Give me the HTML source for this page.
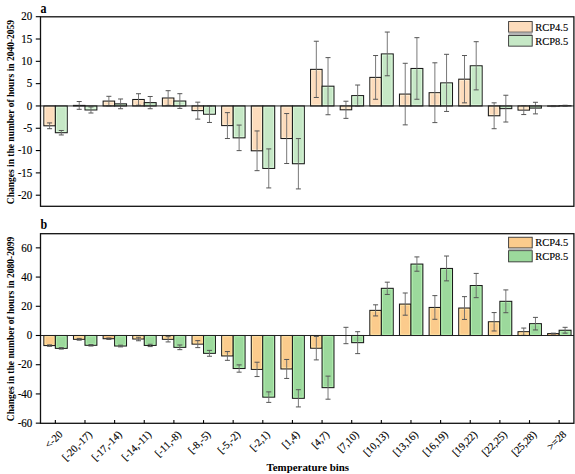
<!DOCTYPE html>
<html><head><meta charset="utf-8"><style>
html,body{margin:0;padding:0;background:#fff;}
svg{display:block;}
text{font-family:"Liberation Serif",serif;fill:#000;stroke:#000;stroke-width:0.15px;}
.tk{font-size:11px;}
.lg{font-size:10.5px;}
.xl{font-size:10.5px;}
.lt{font-size:12px;font-weight:bold;stroke:none;}
.yt{font-size:9.5px;font-weight:bold;stroke:none;}
.xt{font-size:10.9px;font-weight:bold;stroke:none;}
</style></head><body>
<svg width="575" height="474" viewBox="0 0 575 474">
<rect width="575" height="474" fill="#fff"/>
<rect x="43.85" y="105.95" width="11.5" height="19.86" fill="#FDDCBC" stroke="#1a1a1a" stroke-width="1.05"/>
<rect x="45.1" y="107.2" width="9" height="17.36" fill="none" stroke="#FFF0D6" stroke-width="0.8"/>
<rect x="55.35" y="105.95" width="11.9" height="26.77" fill="#C6E8C6" stroke="#1a1a1a" stroke-width="1.05"/>
<rect x="56.6" y="107.2" width="9.4" height="24.27" fill="none" stroke="#DDFADD" stroke-width="0.8"/>
<line x1="49.6" y1="122.91" x2="49.6" y2="128.71" stroke="#6a6a6a" stroke-width="0.9"/>
<line x1="47.1" y1="122.91" x2="52.1" y2="122.91" stroke="#555" stroke-width="1"/>
<line x1="47.1" y1="128.71" x2="52.1" y2="128.71" stroke="#555" stroke-width="1"/>
<line x1="61.3" y1="130.49" x2="61.3" y2="134.96" stroke="#6a6a6a" stroke-width="0.9"/>
<line x1="58.8" y1="130.49" x2="63.8" y2="130.49" stroke="#555" stroke-width="1"/>
<line x1="58.8" y1="134.96" x2="63.8" y2="134.96" stroke="#555" stroke-width="1"/>
<rect x="73.48" y="105.41" width="11.5" height="0.54" fill="#FDDCBC" stroke="#1a1a1a" stroke-width="1.05"/>
<rect x="84.98" y="105.95" width="11.9" height="4.02" fill="#C6E8C6" stroke="#1a1a1a" stroke-width="1.05"/>
<rect x="86.23" y="107.2" width="9.4" height="1.52" fill="none" stroke="#DDFADD" stroke-width="0.8"/>
<line x1="79.23" y1="101.53" x2="79.23" y2="109.3" stroke="#6a6a6a" stroke-width="0.9"/>
<line x1="76.73" y1="101.53" x2="81.73" y2="101.53" stroke="#555" stroke-width="1"/>
<line x1="76.73" y1="109.3" x2="81.73" y2="109.3" stroke="#555" stroke-width="1"/>
<line x1="90.94" y1="106.93" x2="90.94" y2="113" stroke="#6a6a6a" stroke-width="0.9"/>
<line x1="88.44" y1="106.93" x2="93.44" y2="106.93" stroke="#555" stroke-width="1"/>
<line x1="88.44" y1="113" x2="93.44" y2="113" stroke="#555" stroke-width="1"/>
<rect x="103.12" y="101.09" width="11.5" height="4.86" fill="#FDDCBC" stroke="#1a1a1a" stroke-width="1.05"/>
<rect x="104.37" y="102.34" width="9" height="2.36" fill="none" stroke="#FFF0D6" stroke-width="0.8"/>
<rect x="114.62" y="103.85" width="11.9" height="2.1" fill="#C6E8C6" stroke="#1a1a1a" stroke-width="1.05"/>
<line x1="108.87" y1="96.31" x2="108.87" y2="105.86" stroke="#6a6a6a" stroke-width="0.9"/>
<line x1="106.37" y1="96.31" x2="111.37" y2="96.31" stroke="#555" stroke-width="1"/>
<line x1="106.37" y1="105.86" x2="111.37" y2="105.86" stroke="#555" stroke-width="1"/>
<line x1="120.57" y1="98.99" x2="120.57" y2="108.72" stroke="#6a6a6a" stroke-width="0.9"/>
<line x1="118.07" y1="98.99" x2="123.07" y2="98.99" stroke="#555" stroke-width="1"/>
<line x1="118.07" y1="108.72" x2="123.07" y2="108.72" stroke="#555" stroke-width="1"/>
<rect x="132.75" y="99.48" width="11.5" height="6.47" fill="#FDDCBC" stroke="#1a1a1a" stroke-width="1.05"/>
<rect x="134" y="100.73" width="9" height="3.97" fill="none" stroke="#FFF0D6" stroke-width="0.8"/>
<rect x="144.25" y="102.6" width="11.9" height="3.35" fill="#C6E8C6" stroke="#1a1a1a" stroke-width="1.05"/>
<line x1="138.5" y1="93.72" x2="138.5" y2="105.24" stroke="#6a6a6a" stroke-width="0.9"/>
<line x1="136" y1="93.72" x2="141" y2="93.72" stroke="#555" stroke-width="1"/>
<line x1="136" y1="105.24" x2="141" y2="105.24" stroke="#555" stroke-width="1"/>
<line x1="150.2" y1="96.49" x2="150.2" y2="108.72" stroke="#6a6a6a" stroke-width="0.9"/>
<line x1="147.7" y1="96.49" x2="152.7" y2="96.49" stroke="#555" stroke-width="1"/>
<line x1="147.7" y1="108.72" x2="152.7" y2="108.72" stroke="#555" stroke-width="1"/>
<rect x="162.39" y="98.01" width="11.5" height="7.94" fill="#FDDCBC" stroke="#1a1a1a" stroke-width="1.05"/>
<rect x="163.64" y="99.26" width="9" height="5.44" fill="none" stroke="#FFF0D6" stroke-width="0.8"/>
<rect x="173.89" y="101.04" width="11.9" height="4.91" fill="#C6E8C6" stroke="#1a1a1a" stroke-width="1.05"/>
<rect x="175.14" y="102.29" width="9.4" height="2.41" fill="none" stroke="#DDFADD" stroke-width="0.8"/>
<line x1="168.14" y1="90.69" x2="168.14" y2="105.33" stroke="#6a6a6a" stroke-width="0.9"/>
<line x1="165.64" y1="90.69" x2="170.64" y2="90.69" stroke="#555" stroke-width="1"/>
<line x1="165.64" y1="105.33" x2="170.64" y2="105.33" stroke="#555" stroke-width="1"/>
<line x1="179.84" y1="93.68" x2="179.84" y2="108.4" stroke="#6a6a6a" stroke-width="0.9"/>
<line x1="177.34" y1="93.68" x2="182.34" y2="93.68" stroke="#555" stroke-width="1"/>
<line x1="177.34" y1="108.4" x2="182.34" y2="108.4" stroke="#555" stroke-width="1"/>
<rect x="192.03" y="105.95" width="11.5" height="4.69" fill="#FDDCBC" stroke="#1a1a1a" stroke-width="1.05"/>
<rect x="193.28" y="107.2" width="9" height="2.19" fill="none" stroke="#FFF0D6" stroke-width="0.8"/>
<rect x="203.53" y="105.95" width="11.9" height="8.26" fill="#C6E8C6" stroke="#1a1a1a" stroke-width="1.05"/>
<rect x="204.78" y="107.2" width="9.4" height="5.76" fill="none" stroke="#DDFADD" stroke-width="0.8"/>
<line x1="197.78" y1="102.16" x2="197.78" y2="119.11" stroke="#6a6a6a" stroke-width="0.9"/>
<line x1="195.28" y1="102.16" x2="200.28" y2="102.16" stroke="#555" stroke-width="1"/>
<line x1="195.28" y1="119.11" x2="200.28" y2="119.11" stroke="#555" stroke-width="1"/>
<line x1="209.47" y1="105.95" x2="209.47" y2="122.46" stroke="#6a6a6a" stroke-width="0.9"/>
<line x1="206.97" y1="105.95" x2="211.97" y2="105.95" stroke="#555" stroke-width="1"/>
<line x1="206.97" y1="122.46" x2="211.97" y2="122.46" stroke="#555" stroke-width="1"/>
<rect x="221.66" y="105.95" width="11.5" height="19.64" fill="#FDDCBC" stroke="#1a1a1a" stroke-width="1.05"/>
<rect x="222.91" y="107.2" width="9" height="17.14" fill="none" stroke="#FFF0D6" stroke-width="0.8"/>
<rect x="233.16" y="105.95" width="11.9" height="31.91" fill="#C6E8C6" stroke="#1a1a1a" stroke-width="1.05"/>
<rect x="234.41" y="107.2" width="9.4" height="29.41" fill="none" stroke="#DDFADD" stroke-width="0.8"/>
<line x1="227.41" y1="112.64" x2="227.41" y2="138.53" stroke="#6a6a6a" stroke-width="0.9"/>
<line x1="224.91" y1="112.64" x2="229.91" y2="112.64" stroke="#555" stroke-width="1"/>
<line x1="224.91" y1="138.53" x2="229.91" y2="138.53" stroke="#555" stroke-width="1"/>
<line x1="239.11" y1="125.09" x2="239.11" y2="150.62" stroke="#6a6a6a" stroke-width="0.9"/>
<line x1="236.61" y1="125.09" x2="241.61" y2="125.09" stroke="#555" stroke-width="1"/>
<line x1="236.61" y1="150.62" x2="241.61" y2="150.62" stroke="#555" stroke-width="1"/>
<rect x="251.3" y="105.95" width="11.5" height="44.85" fill="#FDDCBC" stroke="#1a1a1a" stroke-width="1.05"/>
<rect x="252.55" y="107.2" width="9" height="42.35" fill="none" stroke="#FFF0D6" stroke-width="0.8"/>
<rect x="262.8" y="105.95" width="11.9" height="62.48" fill="#C6E8C6" stroke="#1a1a1a" stroke-width="1.05"/>
<rect x="264.05" y="107.2" width="9.4" height="59.98" fill="none" stroke="#DDFADD" stroke-width="0.8"/>
<line x1="257.05" y1="130.94" x2="257.05" y2="170.66" stroke="#6a6a6a" stroke-width="0.9"/>
<line x1="254.55" y1="130.94" x2="259.55" y2="130.94" stroke="#555" stroke-width="1"/>
<line x1="254.55" y1="170.66" x2="259.55" y2="170.66" stroke="#555" stroke-width="1"/>
<line x1="268.75" y1="148.92" x2="268.75" y2="187.93" stroke="#6a6a6a" stroke-width="0.9"/>
<line x1="266.25" y1="148.92" x2="271.25" y2="148.92" stroke="#555" stroke-width="1"/>
<line x1="266.25" y1="187.93" x2="271.25" y2="187.93" stroke="#555" stroke-width="1"/>
<rect x="280.93" y="105.95" width="11.5" height="32.58" fill="#FDDCBC" stroke="#1a1a1a" stroke-width="1.05"/>
<rect x="282.18" y="107.2" width="9" height="30.08" fill="none" stroke="#FFF0D6" stroke-width="0.8"/>
<rect x="292.43" y="105.95" width="11.9" height="57.79" fill="#C6E8C6" stroke="#1a1a1a" stroke-width="1.05"/>
<rect x="293.68" y="107.2" width="9.4" height="55.29" fill="none" stroke="#DDFADD" stroke-width="0.8"/>
<line x1="286.68" y1="113.54" x2="286.68" y2="163.52" stroke="#6a6a6a" stroke-width="0.9"/>
<line x1="284.18" y1="113.54" x2="289.18" y2="113.54" stroke="#555" stroke-width="1"/>
<line x1="284.18" y1="163.52" x2="289.18" y2="163.52" stroke="#555" stroke-width="1"/>
<line x1="298.38" y1="138.57" x2="298.38" y2="188.91" stroke="#6a6a6a" stroke-width="0.9"/>
<line x1="295.88" y1="138.57" x2="300.88" y2="138.57" stroke="#555" stroke-width="1"/>
<line x1="295.88" y1="188.91" x2="300.88" y2="188.91" stroke="#555" stroke-width="1"/>
<rect x="310.57" y="69.36" width="11.5" height="36.59" fill="#FDDCBC" stroke="#1a1a1a" stroke-width="1.05"/>
<rect x="311.82" y="70.61" width="9" height="34.09" fill="none" stroke="#FFF0D6" stroke-width="0.8"/>
<rect x="322.07" y="86.18" width="11.9" height="19.77" fill="#C6E8C6" stroke="#1a1a1a" stroke-width="1.05"/>
<rect x="323.32" y="87.43" width="9.4" height="17.27" fill="none" stroke="#DDFADD" stroke-width="0.8"/>
<line x1="316.32" y1="41.24" x2="316.32" y2="97.47" stroke="#6a6a6a" stroke-width="0.9"/>
<line x1="313.82" y1="41.24" x2="318.82" y2="41.24" stroke="#555" stroke-width="1"/>
<line x1="313.82" y1="97.47" x2="318.82" y2="97.47" stroke="#555" stroke-width="1"/>
<line x1="328.02" y1="57.62" x2="328.02" y2="114.74" stroke="#6a6a6a" stroke-width="0.9"/>
<line x1="325.52" y1="57.62" x2="330.52" y2="57.62" stroke="#555" stroke-width="1"/>
<line x1="325.52" y1="114.74" x2="330.52" y2="114.74" stroke="#555" stroke-width="1"/>
<rect x="340.2" y="105.95" width="11.5" height="3.84" fill="#FDDCBC" stroke="#1a1a1a" stroke-width="1.05"/>
<rect x="341.45" y="107.2" width="9" height="1.34" fill="none" stroke="#FFF0D6" stroke-width="0.8"/>
<rect x="351.7" y="95.6" width="11.9" height="10.35" fill="#C6E8C6" stroke="#1a1a1a" stroke-width="1.05"/>
<rect x="352.95" y="96.85" width="9.4" height="7.85" fill="none" stroke="#DDFADD" stroke-width="0.8"/>
<line x1="345.95" y1="101.22" x2="345.95" y2="118.36" stroke="#6a6a6a" stroke-width="0.9"/>
<line x1="343.45" y1="101.22" x2="348.45" y2="101.22" stroke="#555" stroke-width="1"/>
<line x1="343.45" y1="118.36" x2="348.45" y2="118.36" stroke="#555" stroke-width="1"/>
<line x1="357.65" y1="85.02" x2="357.65" y2="106.17" stroke="#6a6a6a" stroke-width="0.9"/>
<line x1="355.15" y1="85.02" x2="360.15" y2="85.02" stroke="#555" stroke-width="1"/>
<line x1="355.15" y1="106.17" x2="360.15" y2="106.17" stroke="#555" stroke-width="1"/>
<rect x="369.84" y="77.39" width="11.5" height="28.56" fill="#FDDCBC" stroke="#1a1a1a" stroke-width="1.05"/>
<rect x="371.09" y="78.64" width="9" height="26.06" fill="none" stroke="#FFF0D6" stroke-width="0.8"/>
<rect x="381.34" y="53.92" width="11.9" height="52.03" fill="#C6E8C6" stroke="#1a1a1a" stroke-width="1.05"/>
<rect x="382.59" y="55.17" width="9.4" height="49.53" fill="none" stroke="#DDFADD" stroke-width="0.8"/>
<line x1="375.59" y1="55.52" x2="375.59" y2="99.26" stroke="#6a6a6a" stroke-width="0.9"/>
<line x1="373.09" y1="55.52" x2="378.09" y2="55.52" stroke="#555" stroke-width="1"/>
<line x1="373.09" y1="99.26" x2="378.09" y2="99.26" stroke="#555" stroke-width="1"/>
<line x1="387.29" y1="32.05" x2="387.29" y2="75.78" stroke="#6a6a6a" stroke-width="0.9"/>
<line x1="384.79" y1="32.05" x2="389.79" y2="32.05" stroke="#555" stroke-width="1"/>
<line x1="384.79" y1="75.78" x2="389.79" y2="75.78" stroke="#555" stroke-width="1"/>
<rect x="399.47" y="94.08" width="11.5" height="11.87" fill="#FDDCBC" stroke="#1a1a1a" stroke-width="1.05"/>
<rect x="400.72" y="95.33" width="9" height="9.37" fill="none" stroke="#FFF0D6" stroke-width="0.8"/>
<rect x="410.97" y="68.47" width="11.9" height="37.48" fill="#C6E8C6" stroke="#1a1a1a" stroke-width="1.05"/>
<rect x="412.22" y="69.72" width="9.4" height="34.98" fill="none" stroke="#DDFADD" stroke-width="0.8"/>
<line x1="405.22" y1="63.29" x2="405.22" y2="124.87" stroke="#6a6a6a" stroke-width="0.9"/>
<line x1="402.72" y1="63.29" x2="407.72" y2="63.29" stroke="#555" stroke-width="1"/>
<line x1="402.72" y1="124.87" x2="407.72" y2="124.87" stroke="#555" stroke-width="1"/>
<line x1="416.92" y1="37.67" x2="416.92" y2="99.26" stroke="#6a6a6a" stroke-width="0.9"/>
<line x1="414.42" y1="37.67" x2="419.42" y2="37.67" stroke="#555" stroke-width="1"/>
<line x1="414.42" y1="99.26" x2="419.42" y2="99.26" stroke="#555" stroke-width="1"/>
<rect x="429.11" y="92.7" width="11.5" height="13.25" fill="#FDDCBC" stroke="#1a1a1a" stroke-width="1.05"/>
<rect x="430.36" y="93.95" width="9" height="10.75" fill="none" stroke="#FFF0D6" stroke-width="0.8"/>
<rect x="440.61" y="82.88" width="11.9" height="23.07" fill="#C6E8C6" stroke="#1a1a1a" stroke-width="1.05"/>
<rect x="441.86" y="84.13" width="9.4" height="20.57" fill="none" stroke="#DDFADD" stroke-width="0.8"/>
<line x1="434.86" y1="62.8" x2="434.86" y2="122.6" stroke="#6a6a6a" stroke-width="0.9"/>
<line x1="432.36" y1="62.8" x2="437.36" y2="62.8" stroke="#555" stroke-width="1"/>
<line x1="432.36" y1="122.6" x2="437.36" y2="122.6" stroke="#555" stroke-width="1"/>
<line x1="446.56" y1="54.32" x2="446.56" y2="111.44" stroke="#6a6a6a" stroke-width="0.9"/>
<line x1="444.06" y1="54.32" x2="449.06" y2="54.32" stroke="#555" stroke-width="1"/>
<line x1="444.06" y1="111.44" x2="449.06" y2="111.44" stroke="#555" stroke-width="1"/>
<rect x="458.74" y="79.17" width="11.5" height="26.78" fill="#FDDCBC" stroke="#1a1a1a" stroke-width="1.05"/>
<rect x="459.99" y="80.42" width="9" height="24.28" fill="none" stroke="#FFF0D6" stroke-width="0.8"/>
<rect x="470.24" y="65.79" width="11.9" height="40.16" fill="#C6E8C6" stroke="#1a1a1a" stroke-width="1.05"/>
<rect x="471.49" y="67.04" width="9.4" height="37.66" fill="none" stroke="#DDFADD" stroke-width="0.8"/>
<line x1="464.49" y1="55.52" x2="464.49" y2="102.83" stroke="#6a6a6a" stroke-width="0.9"/>
<line x1="461.99" y1="55.52" x2="466.99" y2="55.52" stroke="#555" stroke-width="1"/>
<line x1="461.99" y1="102.83" x2="466.99" y2="102.83" stroke="#555" stroke-width="1"/>
<line x1="476.19" y1="41.69" x2="476.19" y2="89.89" stroke="#6a6a6a" stroke-width="0.9"/>
<line x1="473.69" y1="41.69" x2="478.69" y2="41.69" stroke="#555" stroke-width="1"/>
<line x1="473.69" y1="89.89" x2="478.69" y2="89.89" stroke="#555" stroke-width="1"/>
<rect x="488.38" y="105.95" width="11.5" height="9.82" fill="#FDDCBC" stroke="#1a1a1a" stroke-width="1.05"/>
<rect x="489.63" y="107.2" width="9" height="7.32" fill="none" stroke="#FFF0D6" stroke-width="0.8"/>
<rect x="499.88" y="105.95" width="11.9" height="2.68" fill="#C6E8C6" stroke="#1a1a1a" stroke-width="1.05"/>
<line x1="494.13" y1="102.83" x2="494.13" y2="128.71" stroke="#6a6a6a" stroke-width="0.9"/>
<line x1="491.63" y1="102.83" x2="496.63" y2="102.83" stroke="#555" stroke-width="1"/>
<line x1="491.63" y1="128.71" x2="496.63" y2="128.71" stroke="#555" stroke-width="1"/>
<line x1="505.83" y1="95.24" x2="505.83" y2="122.02" stroke="#6a6a6a" stroke-width="0.9"/>
<line x1="503.33" y1="95.24" x2="508.33" y2="95.24" stroke="#555" stroke-width="1"/>
<line x1="503.33" y1="122.02" x2="508.33" y2="122.02" stroke="#555" stroke-width="1"/>
<rect x="518.01" y="105.95" width="11.5" height="4.15" fill="#FDDCBC" stroke="#1a1a1a" stroke-width="1.05"/>
<rect x="519.26" y="107.2" width="9" height="1.65" fill="none" stroke="#FFF0D6" stroke-width="0.8"/>
<rect x="529.51" y="105.95" width="11.9" height="2.14" fill="#C6E8C6" stroke="#1a1a1a" stroke-width="1.05"/>
<line x1="523.76" y1="105.64" x2="523.76" y2="114.56" stroke="#6a6a6a" stroke-width="0.9"/>
<line x1="521.26" y1="105.64" x2="526.26" y2="105.64" stroke="#555" stroke-width="1"/>
<line x1="521.26" y1="114.56" x2="526.26" y2="114.56" stroke="#555" stroke-width="1"/>
<line x1="535.46" y1="102.29" x2="535.46" y2="113.89" stroke="#6a6a6a" stroke-width="0.9"/>
<line x1="532.96" y1="102.29" x2="537.96" y2="102.29" stroke="#555" stroke-width="1"/>
<line x1="532.96" y1="113.89" x2="537.96" y2="113.89" stroke="#555" stroke-width="1"/>
<rect x="547.64" y="105.95" width="11.5" height="0.22" fill="#FDDCBC" stroke="#1a1a1a" stroke-width="1.05"/>
<rect x="559.14" y="105.73" width="11.9" height="0.22" fill="#C6E8C6" stroke="#1a1a1a" stroke-width="1.05"/>
<line x1="553.39" y1="105.73" x2="553.39" y2="106.62" stroke="#6a6a6a" stroke-width="0.9"/>
<line x1="550.89" y1="105.73" x2="555.89" y2="105.73" stroke="#555" stroke-width="1"/>
<line x1="550.89" y1="106.62" x2="555.89" y2="106.62" stroke="#555" stroke-width="1"/>
<line x1="565.1" y1="105.28" x2="565.1" y2="106.17" stroke="#6a6a6a" stroke-width="0.9"/>
<line x1="562.6" y1="105.28" x2="567.6" y2="105.28" stroke="#555" stroke-width="1"/>
<line x1="562.6" y1="106.17" x2="567.6" y2="106.17" stroke="#555" stroke-width="1"/>
<line x1="40.5" y1="105.95" x2="573.9" y2="105.95" stroke="#222" stroke-width="1.0"/>
<rect x="40.5" y="16.8" width="533.4" height="189.5" fill="none" stroke="#111" stroke-width="1.3"/>
<line x1="35.8" y1="16.7" x2="40.5" y2="16.7" stroke="#000" stroke-width="1.1"/>
<text transform="translate(32.3,20.45) scale(1,1.06)" text-anchor="end" class="tk">20</text>
<line x1="35.8" y1="39.01" x2="40.5" y2="39.01" stroke="#000" stroke-width="1.1"/>
<text transform="translate(32.3,42.76) scale(1,1.06)" text-anchor="end" class="tk">15</text>
<line x1="35.8" y1="61.33" x2="40.5" y2="61.33" stroke="#000" stroke-width="1.1"/>
<text transform="translate(32.3,65.08) scale(1,1.06)" text-anchor="end" class="tk">10</text>
<line x1="35.8" y1="83.64" x2="40.5" y2="83.64" stroke="#000" stroke-width="1.1"/>
<text transform="translate(32.3,87.39) scale(1,1.06)" text-anchor="end" class="tk">5</text>
<line x1="35.8" y1="105.95" x2="40.5" y2="105.95" stroke="#000" stroke-width="1.1"/>
<text transform="translate(32.3,109.7) scale(1,1.06)" text-anchor="end" class="tk">0</text>
<line x1="35.8" y1="128.26" x2="40.5" y2="128.26" stroke="#000" stroke-width="1.1"/>
<text transform="translate(32.3,132.01) scale(1,1.06)" text-anchor="end" class="tk">-5</text>
<line x1="35.8" y1="150.57" x2="40.5" y2="150.57" stroke="#000" stroke-width="1.1"/>
<text transform="translate(32.3,154.32) scale(1,1.06)" text-anchor="end" class="tk">-10</text>
<line x1="35.8" y1="172.89" x2="40.5" y2="172.89" stroke="#000" stroke-width="1.1"/>
<text transform="translate(32.3,176.64) scale(1,1.06)" text-anchor="end" class="tk">-15</text>
<line x1="35.8" y1="195.2" x2="40.5" y2="195.2" stroke="#000" stroke-width="1.1"/>
<text transform="translate(32.3,198.95) scale(1,1.06)" text-anchor="end" class="tk">-20</text>
<text transform="translate(40.6,12.9) scale(1,1.14)" class="lt">a</text>
<text transform="translate(13.6,112.05) rotate(-90)" text-anchor="middle" class="yt">Changes in the number of hours in 2040-2059</text>
<rect x="508.6" y="21.55" width="23.6" height="10.6" fill="#FDDCBC" stroke="#333" stroke-width="0.9"/>
<rect x="508.6" y="35.45" width="23.6" height="10.7" fill="#C6E8C6" stroke="#333" stroke-width="0.9"/>
<rect x="508.6" y="32.6" width="23.6" height="2.4" fill="#b4b4b4"/>
<text transform="translate(535.3,30.9) scale(1,1.08)" class="lg">RCP4.5</text>
<text transform="translate(535.3,44.7) scale(1,1.08)" class="lg">RCP8.5</text>
<rect x="43.85" y="335.5" width="11.5" height="10.08" fill="#FBCB8C" stroke="#1a1a1a" stroke-width="1.05"/>
<rect x="45.1" y="336.75" width="9" height="7.58" fill="none" stroke="#FFE6A8" stroke-width="0.8"/>
<rect x="55.35" y="335.5" width="11.9" height="12.86" fill="#9CD99C" stroke="#1a1a1a" stroke-width="1.05"/>
<rect x="56.6" y="336.75" width="9.4" height="10.36" fill="none" stroke="#B6F3B4" stroke-width="0.8"/>
<line x1="49.6" y1="344.85" x2="49.6" y2="346.31" stroke="#6a6a6a" stroke-width="0.9"/>
<line x1="47.1" y1="344.85" x2="52.1" y2="344.85" stroke="#555" stroke-width="1"/>
<line x1="47.1" y1="346.31" x2="52.1" y2="346.31" stroke="#555" stroke-width="1"/>
<line x1="61.3" y1="347.62" x2="61.3" y2="349.09" stroke="#6a6a6a" stroke-width="0.9"/>
<line x1="58.8" y1="347.62" x2="63.8" y2="347.62" stroke="#555" stroke-width="1"/>
<line x1="58.8" y1="349.09" x2="63.8" y2="349.09" stroke="#555" stroke-width="1"/>
<rect x="73.48" y="335.5" width="11.5" height="3.8" fill="#FBCB8C" stroke="#1a1a1a" stroke-width="1.05"/>
<rect x="74.73" y="336.75" width="9" height="1.3" fill="none" stroke="#FFE6A8" stroke-width="0.8"/>
<rect x="84.98" y="335.5" width="11.9" height="9.79" fill="#9CD99C" stroke="#1a1a1a" stroke-width="1.05"/>
<rect x="86.23" y="336.75" width="9.4" height="7.29" fill="none" stroke="#B6F3B4" stroke-width="0.8"/>
<line x1="79.23" y1="338.42" x2="79.23" y2="340.17" stroke="#6a6a6a" stroke-width="0.9"/>
<line x1="76.73" y1="338.42" x2="81.73" y2="338.42" stroke="#555" stroke-width="1"/>
<line x1="76.73" y1="340.17" x2="81.73" y2="340.17" stroke="#555" stroke-width="1"/>
<line x1="90.94" y1="344.56" x2="90.94" y2="346.02" stroke="#6a6a6a" stroke-width="0.9"/>
<line x1="88.44" y1="344.56" x2="93.44" y2="344.56" stroke="#555" stroke-width="1"/>
<line x1="88.44" y1="346.02" x2="93.44" y2="346.02" stroke="#555" stroke-width="1"/>
<rect x="103.12" y="335.5" width="11.5" height="3.21" fill="#FBCB8C" stroke="#1a1a1a" stroke-width="1.05"/>
<rect x="114.62" y="335.5" width="11.9" height="10.52" fill="#9CD99C" stroke="#1a1a1a" stroke-width="1.05"/>
<rect x="115.87" y="336.75" width="9.4" height="8.02" fill="none" stroke="#B6F3B4" stroke-width="0.8"/>
<line x1="108.87" y1="337.98" x2="108.87" y2="339.44" stroke="#6a6a6a" stroke-width="0.9"/>
<line x1="106.37" y1="337.98" x2="111.37" y2="337.98" stroke="#555" stroke-width="1"/>
<line x1="106.37" y1="339.44" x2="111.37" y2="339.44" stroke="#555" stroke-width="1"/>
<line x1="120.57" y1="345.14" x2="120.57" y2="346.89" stroke="#6a6a6a" stroke-width="0.9"/>
<line x1="118.07" y1="345.14" x2="123.07" y2="345.14" stroke="#555" stroke-width="1"/>
<line x1="118.07" y1="346.89" x2="123.07" y2="346.89" stroke="#555" stroke-width="1"/>
<rect x="132.75" y="335.5" width="11.5" height="3.51" fill="#FBCB8C" stroke="#1a1a1a" stroke-width="1.05"/>
<rect x="134" y="336.75" width="9" height="1.01" fill="none" stroke="#FFE6A8" stroke-width="0.8"/>
<rect x="144.25" y="335.5" width="11.9" height="9.93" fill="#9CD99C" stroke="#1a1a1a" stroke-width="1.05"/>
<rect x="145.5" y="336.75" width="9.4" height="7.43" fill="none" stroke="#B6F3B4" stroke-width="0.8"/>
<line x1="138.5" y1="337.25" x2="138.5" y2="340.76" stroke="#6a6a6a" stroke-width="0.9"/>
<line x1="136" y1="337.25" x2="141" y2="337.25" stroke="#555" stroke-width="1"/>
<line x1="136" y1="340.76" x2="141" y2="340.76" stroke="#555" stroke-width="1"/>
<line x1="150.2" y1="344.26" x2="150.2" y2="346.6" stroke="#6a6a6a" stroke-width="0.9"/>
<line x1="147.7" y1="344.26" x2="152.7" y2="344.26" stroke="#555" stroke-width="1"/>
<line x1="147.7" y1="346.6" x2="152.7" y2="346.6" stroke="#555" stroke-width="1"/>
<rect x="162.39" y="335.5" width="11.5" height="3.8" fill="#FBCB8C" stroke="#1a1a1a" stroke-width="1.05"/>
<rect x="163.64" y="336.75" width="9" height="1.3" fill="none" stroke="#FFE6A8" stroke-width="0.8"/>
<rect x="173.89" y="335.5" width="11.9" height="11.83" fill="#9CD99C" stroke="#1a1a1a" stroke-width="1.05"/>
<rect x="175.14" y="336.75" width="9.4" height="9.33" fill="none" stroke="#B6F3B4" stroke-width="0.8"/>
<line x1="168.14" y1="336.67" x2="168.14" y2="341.93" stroke="#6a6a6a" stroke-width="0.9"/>
<line x1="165.64" y1="336.67" x2="170.64" y2="336.67" stroke="#555" stroke-width="1"/>
<line x1="165.64" y1="341.93" x2="170.64" y2="341.93" stroke="#555" stroke-width="1"/>
<line x1="179.84" y1="345" x2="179.84" y2="349.67" stroke="#6a6a6a" stroke-width="0.9"/>
<line x1="177.34" y1="345" x2="182.34" y2="345" stroke="#555" stroke-width="1"/>
<line x1="177.34" y1="349.67" x2="182.34" y2="349.67" stroke="#555" stroke-width="1"/>
<rect x="192.03" y="335.5" width="11.5" height="8.62" fill="#FBCB8C" stroke="#1a1a1a" stroke-width="1.05"/>
<rect x="193.28" y="336.75" width="9" height="6.12" fill="none" stroke="#FFE6A8" stroke-width="0.8"/>
<rect x="203.53" y="335.5" width="11.9" height="17.82" fill="#9CD99C" stroke="#1a1a1a" stroke-width="1.05"/>
<rect x="204.78" y="336.75" width="9.4" height="15.32" fill="none" stroke="#B6F3B4" stroke-width="0.8"/>
<line x1="197.78" y1="340.61" x2="197.78" y2="347.62" stroke="#6a6a6a" stroke-width="0.9"/>
<line x1="195.28" y1="340.61" x2="200.28" y2="340.61" stroke="#555" stroke-width="1"/>
<line x1="195.28" y1="347.62" x2="200.28" y2="347.62" stroke="#555" stroke-width="1"/>
<line x1="209.47" y1="350.4" x2="209.47" y2="356.24" stroke="#6a6a6a" stroke-width="0.9"/>
<line x1="206.97" y1="350.4" x2="211.97" y2="350.4" stroke="#555" stroke-width="1"/>
<line x1="206.97" y1="356.24" x2="211.97" y2="356.24" stroke="#555" stroke-width="1"/>
<rect x="221.66" y="335.5" width="11.5" height="20.45" fill="#FBCB8C" stroke="#1a1a1a" stroke-width="1.05"/>
<rect x="222.91" y="336.75" width="9" height="17.95" fill="none" stroke="#FFE6A8" stroke-width="0.8"/>
<rect x="233.16" y="335.5" width="11.9" height="33.01" fill="#9CD99C" stroke="#1a1a1a" stroke-width="1.05"/>
<rect x="234.41" y="336.75" width="9.4" height="30.51" fill="none" stroke="#B6F3B4" stroke-width="0.8"/>
<line x1="227.41" y1="351.57" x2="227.41" y2="360.33" stroke="#6a6a6a" stroke-width="0.9"/>
<line x1="224.91" y1="351.57" x2="229.91" y2="351.57" stroke="#555" stroke-width="1"/>
<line x1="224.91" y1="360.33" x2="229.91" y2="360.33" stroke="#555" stroke-width="1"/>
<line x1="239.11" y1="364.86" x2="239.11" y2="372.17" stroke="#6a6a6a" stroke-width="0.9"/>
<line x1="236.61" y1="364.86" x2="241.61" y2="364.86" stroke="#555" stroke-width="1"/>
<line x1="236.61" y1="372.17" x2="241.61" y2="372.17" stroke="#555" stroke-width="1"/>
<rect x="251.3" y="335.5" width="11.5" height="33.89" fill="#FBCB8C" stroke="#1a1a1a" stroke-width="1.05"/>
<rect x="252.55" y="336.75" width="9" height="31.39" fill="none" stroke="#FFE6A8" stroke-width="0.8"/>
<rect x="262.8" y="335.5" width="11.9" height="61.65" fill="#9CD99C" stroke="#1a1a1a" stroke-width="1.05"/>
<rect x="264.05" y="336.75" width="9.4" height="59.15" fill="none" stroke="#B6F3B4" stroke-width="0.8"/>
<line x1="257.05" y1="362.23" x2="257.05" y2="376.55" stroke="#6a6a6a" stroke-width="0.9"/>
<line x1="254.55" y1="362.23" x2="259.55" y2="362.23" stroke="#555" stroke-width="1"/>
<line x1="254.55" y1="376.55" x2="259.55" y2="376.55" stroke="#555" stroke-width="1"/>
<line x1="268.75" y1="391.89" x2="268.75" y2="402.4" stroke="#6a6a6a" stroke-width="0.9"/>
<line x1="266.25" y1="391.89" x2="271.25" y2="391.89" stroke="#555" stroke-width="1"/>
<line x1="266.25" y1="402.4" x2="271.25" y2="402.4" stroke="#555" stroke-width="1"/>
<rect x="280.93" y="335.5" width="11.5" height="33.45" fill="#FBCB8C" stroke="#1a1a1a" stroke-width="1.05"/>
<rect x="282.18" y="336.75" width="9" height="30.95" fill="none" stroke="#FFE6A8" stroke-width="0.8"/>
<rect x="292.43" y="335.5" width="11.9" height="62.81" fill="#9CD99C" stroke="#1a1a1a" stroke-width="1.05"/>
<rect x="293.68" y="336.75" width="9.4" height="60.31" fill="none" stroke="#B6F3B4" stroke-width="0.8"/>
<line x1="286.68" y1="359.46" x2="286.68" y2="378.45" stroke="#6a6a6a" stroke-width="0.9"/>
<line x1="284.18" y1="359.46" x2="289.18" y2="359.46" stroke="#555" stroke-width="1"/>
<line x1="284.18" y1="378.45" x2="289.18" y2="378.45" stroke="#555" stroke-width="1"/>
<line x1="298.38" y1="389.7" x2="298.38" y2="406.93" stroke="#6a6a6a" stroke-width="0.9"/>
<line x1="295.88" y1="389.7" x2="300.88" y2="389.7" stroke="#555" stroke-width="1"/>
<line x1="295.88" y1="406.93" x2="300.88" y2="406.93" stroke="#555" stroke-width="1"/>
<rect x="310.57" y="335.5" width="11.5" height="12.71" fill="#FBCB8C" stroke="#1a1a1a" stroke-width="1.05"/>
<rect x="311.82" y="336.75" width="9" height="10.21" fill="none" stroke="#FFE6A8" stroke-width="0.8"/>
<rect x="322.07" y="335.5" width="11.9" height="52.15" fill="#9CD99C" stroke="#1a1a1a" stroke-width="1.05"/>
<rect x="323.32" y="336.75" width="9.4" height="49.65" fill="none" stroke="#B6F3B4" stroke-width="0.8"/>
<line x1="316.32" y1="336.52" x2="316.32" y2="359.9" stroke="#6a6a6a" stroke-width="0.9"/>
<line x1="313.82" y1="336.52" x2="318.82" y2="336.52" stroke="#555" stroke-width="1"/>
<line x1="313.82" y1="359.9" x2="318.82" y2="359.9" stroke="#555" stroke-width="1"/>
<line x1="328.02" y1="376.11" x2="328.02" y2="399.19" stroke="#6a6a6a" stroke-width="0.9"/>
<line x1="325.52" y1="376.11" x2="330.52" y2="376.11" stroke="#555" stroke-width="1"/>
<line x1="325.52" y1="399.19" x2="330.52" y2="399.19" stroke="#555" stroke-width="1"/>
<rect x="340.2" y="335.5" width="11.5" height="0" fill="#FBCB8C" stroke="#1a1a1a" stroke-width="1.05"/>
<rect x="351.7" y="335.5" width="11.9" height="7.16" fill="#9CD99C" stroke="#1a1a1a" stroke-width="1.05"/>
<rect x="352.95" y="336.75" width="9.4" height="4.66" fill="none" stroke="#B6F3B4" stroke-width="0.8"/>
<line x1="345.95" y1="327.32" x2="345.95" y2="343.68" stroke="#6a6a6a" stroke-width="0.9"/>
<line x1="343.45" y1="327.32" x2="348.45" y2="327.32" stroke="#555" stroke-width="1"/>
<line x1="343.45" y1="343.68" x2="348.45" y2="343.68" stroke="#555" stroke-width="1"/>
<line x1="357.65" y1="331.7" x2="357.65" y2="353.61" stroke="#6a6a6a" stroke-width="0.9"/>
<line x1="355.15" y1="331.7" x2="360.15" y2="331.7" stroke="#555" stroke-width="1"/>
<line x1="355.15" y1="353.61" x2="360.15" y2="353.61" stroke="#555" stroke-width="1"/>
<rect x="369.84" y="310.37" width="11.5" height="25.13" fill="#FBCB8C" stroke="#1a1a1a" stroke-width="1.05"/>
<rect x="371.09" y="311.62" width="9" height="22.63" fill="none" stroke="#FFE6A8" stroke-width="0.8"/>
<rect x="381.34" y="288.32" width="11.9" height="47.18" fill="#9CD99C" stroke="#1a1a1a" stroke-width="1.05"/>
<rect x="382.59" y="289.57" width="9.4" height="44.68" fill="none" stroke="#B6F3B4" stroke-width="0.8"/>
<line x1="375.59" y1="304.82" x2="375.59" y2="315.93" stroke="#6a6a6a" stroke-width="0.9"/>
<line x1="373.09" y1="304.82" x2="378.09" y2="304.82" stroke="#555" stroke-width="1"/>
<line x1="373.09" y1="315.93" x2="378.09" y2="315.93" stroke="#555" stroke-width="1"/>
<line x1="387.29" y1="282.18" x2="387.29" y2="294.45" stroke="#6a6a6a" stroke-width="0.9"/>
<line x1="384.79" y1="282.18" x2="389.79" y2="282.18" stroke="#555" stroke-width="1"/>
<line x1="384.79" y1="294.45" x2="389.79" y2="294.45" stroke="#555" stroke-width="1"/>
<rect x="399.47" y="304.09" width="11.5" height="31.41" fill="#FBCB8C" stroke="#1a1a1a" stroke-width="1.05"/>
<rect x="400.72" y="305.34" width="9" height="28.91" fill="none" stroke="#FFE6A8" stroke-width="0.8"/>
<rect x="410.97" y="264.07" width="11.9" height="71.43" fill="#9CD99C" stroke="#1a1a1a" stroke-width="1.05"/>
<rect x="412.22" y="265.32" width="9.4" height="68.93" fill="none" stroke="#B6F3B4" stroke-width="0.8"/>
<line x1="405.22" y1="292.99" x2="405.22" y2="315.19" stroke="#6a6a6a" stroke-width="0.9"/>
<line x1="402.72" y1="292.99" x2="407.72" y2="292.99" stroke="#555" stroke-width="1"/>
<line x1="402.72" y1="315.19" x2="407.72" y2="315.19" stroke="#555" stroke-width="1"/>
<line x1="416.92" y1="256.91" x2="416.92" y2="271.22" stroke="#6a6a6a" stroke-width="0.9"/>
<line x1="414.42" y1="256.91" x2="419.42" y2="256.91" stroke="#555" stroke-width="1"/>
<line x1="414.42" y1="271.22" x2="419.42" y2="271.22" stroke="#555" stroke-width="1"/>
<rect x="429.11" y="307.45" width="11.5" height="28.05" fill="#FBCB8C" stroke="#1a1a1a" stroke-width="1.05"/>
<rect x="430.36" y="308.7" width="9" height="25.55" fill="none" stroke="#FFE6A8" stroke-width="0.8"/>
<rect x="440.61" y="268.45" width="11.9" height="67.05" fill="#9CD99C" stroke="#1a1a1a" stroke-width="1.05"/>
<rect x="441.86" y="269.7" width="9.4" height="64.55" fill="none" stroke="#B6F3B4" stroke-width="0.8"/>
<line x1="434.86" y1="295.62" x2="434.86" y2="319.29" stroke="#6a6a6a" stroke-width="0.9"/>
<line x1="432.36" y1="295.62" x2="437.36" y2="295.62" stroke="#555" stroke-width="1"/>
<line x1="432.36" y1="319.29" x2="437.36" y2="319.29" stroke="#555" stroke-width="1"/>
<line x1="446.56" y1="256.03" x2="446.56" y2="280.87" stroke="#6a6a6a" stroke-width="0.9"/>
<line x1="444.06" y1="256.03" x2="449.06" y2="256.03" stroke="#555" stroke-width="1"/>
<line x1="444.06" y1="280.87" x2="449.06" y2="280.87" stroke="#555" stroke-width="1"/>
<rect x="458.74" y="308.04" width="11.5" height="27.46" fill="#FBCB8C" stroke="#1a1a1a" stroke-width="1.05"/>
<rect x="459.99" y="309.29" width="9" height="24.96" fill="none" stroke="#FFE6A8" stroke-width="0.8"/>
<rect x="470.24" y="285.54" width="11.9" height="49.96" fill="#9CD99C" stroke="#1a1a1a" stroke-width="1.05"/>
<rect x="471.49" y="286.79" width="9.4" height="47.46" fill="none" stroke="#B6F3B4" stroke-width="0.8"/>
<line x1="464.49" y1="296.64" x2="464.49" y2="319.43" stroke="#6a6a6a" stroke-width="0.9"/>
<line x1="461.99" y1="296.64" x2="466.99" y2="296.64" stroke="#555" stroke-width="1"/>
<line x1="461.99" y1="319.43" x2="466.99" y2="319.43" stroke="#555" stroke-width="1"/>
<line x1="476.19" y1="273.42" x2="476.19" y2="297.67" stroke="#6a6a6a" stroke-width="0.9"/>
<line x1="473.69" y1="273.42" x2="478.69" y2="273.42" stroke="#555" stroke-width="1"/>
<line x1="473.69" y1="297.67" x2="478.69" y2="297.67" stroke="#555" stroke-width="1"/>
<rect x="488.38" y="321.77" width="11.5" height="13.73" fill="#FBCB8C" stroke="#1a1a1a" stroke-width="1.05"/>
<rect x="489.63" y="323.02" width="9" height="11.23" fill="none" stroke="#FFE6A8" stroke-width="0.8"/>
<rect x="499.88" y="301.32" width="11.9" height="34.18" fill="#9CD99C" stroke="#1a1a1a" stroke-width="1.05"/>
<rect x="501.13" y="302.57" width="9.4" height="31.68" fill="none" stroke="#B6F3B4" stroke-width="0.8"/>
<line x1="494.13" y1="312.57" x2="494.13" y2="330.97" stroke="#6a6a6a" stroke-width="0.9"/>
<line x1="491.63" y1="312.57" x2="496.63" y2="312.57" stroke="#555" stroke-width="1"/>
<line x1="491.63" y1="330.97" x2="496.63" y2="330.97" stroke="#555" stroke-width="1"/>
<line x1="505.83" y1="289.92" x2="505.83" y2="312.71" stroke="#6a6a6a" stroke-width="0.9"/>
<line x1="503.33" y1="289.92" x2="508.33" y2="289.92" stroke="#555" stroke-width="1"/>
<line x1="503.33" y1="312.71" x2="508.33" y2="312.71" stroke="#555" stroke-width="1"/>
<rect x="518.01" y="331.7" width="11.5" height="3.8" fill="#FBCB8C" stroke="#1a1a1a" stroke-width="1.05"/>
<rect x="519.26" y="332.95" width="9" height="1.3" fill="none" stroke="#FFE6A8" stroke-width="0.8"/>
<rect x="529.51" y="323.67" width="11.9" height="11.83" fill="#9CD99C" stroke="#1a1a1a" stroke-width="1.05"/>
<rect x="530.76" y="324.92" width="9.4" height="9.33" fill="none" stroke="#B6F3B4" stroke-width="0.8"/>
<line x1="523.76" y1="328.05" x2="523.76" y2="335.35" stroke="#6a6a6a" stroke-width="0.9"/>
<line x1="521.26" y1="328.05" x2="526.26" y2="328.05" stroke="#555" stroke-width="1"/>
<line x1="521.26" y1="335.35" x2="526.26" y2="335.35" stroke="#555" stroke-width="1"/>
<line x1="535.46" y1="317.39" x2="535.46" y2="329.95" stroke="#6a6a6a" stroke-width="0.9"/>
<line x1="532.96" y1="317.39" x2="537.96" y2="317.39" stroke="#555" stroke-width="1"/>
<line x1="532.96" y1="329.95" x2="537.96" y2="329.95" stroke="#555" stroke-width="1"/>
<rect x="547.64" y="333.6" width="11.5" height="1.9" fill="#FBCB8C" stroke="#1a1a1a" stroke-width="1.05"/>
<rect x="559.14" y="330.24" width="11.9" height="5.26" fill="#9CD99C" stroke="#1a1a1a" stroke-width="1.05"/>
<rect x="560.39" y="331.49" width="9.4" height="2.76" fill="none" stroke="#B6F3B4" stroke-width="0.8"/>
<line x1="553.39" y1="333.16" x2="553.39" y2="334.04" stroke="#6a6a6a" stroke-width="0.9"/>
<line x1="550.89" y1="333.16" x2="555.89" y2="333.16" stroke="#555" stroke-width="1"/>
<line x1="550.89" y1="334.04" x2="555.89" y2="334.04" stroke="#555" stroke-width="1"/>
<line x1="565.1" y1="327.32" x2="565.1" y2="333.16" stroke="#6a6a6a" stroke-width="0.9"/>
<line x1="562.6" y1="327.32" x2="567.6" y2="327.32" stroke="#555" stroke-width="1"/>
<line x1="562.6" y1="333.16" x2="567.6" y2="333.16" stroke="#555" stroke-width="1"/>
<line x1="40.5" y1="335.5" x2="573.9" y2="335.5" stroke="#222" stroke-width="1.0"/>
<rect x="40.5" y="233.7" width="533.4" height="189.6" fill="none" stroke="#111" stroke-width="1.3"/>
<line x1="35.8" y1="247.85" x2="40.5" y2="247.85" stroke="#000" stroke-width="1.1"/>
<text transform="translate(32.3,251.6) scale(1,1.06)" text-anchor="end" class="tk">60</text>
<line x1="35.8" y1="277.07" x2="40.5" y2="277.07" stroke="#000" stroke-width="1.1"/>
<text transform="translate(32.3,280.82) scale(1,1.06)" text-anchor="end" class="tk">40</text>
<line x1="35.8" y1="306.28" x2="40.5" y2="306.28" stroke="#000" stroke-width="1.1"/>
<text transform="translate(32.3,310.03) scale(1,1.06)" text-anchor="end" class="tk">20</text>
<line x1="35.8" y1="335.5" x2="40.5" y2="335.5" stroke="#000" stroke-width="1.1"/>
<text transform="translate(32.3,339.25) scale(1,1.06)" text-anchor="end" class="tk">0</text>
<line x1="35.8" y1="364.72" x2="40.5" y2="364.72" stroke="#000" stroke-width="1.1"/>
<text transform="translate(32.3,368.47) scale(1,1.06)" text-anchor="end" class="tk">-20</text>
<line x1="35.8" y1="393.93" x2="40.5" y2="393.93" stroke="#000" stroke-width="1.1"/>
<text transform="translate(32.3,397.68) scale(1,1.06)" text-anchor="end" class="tk">-40</text>
<line x1="35.8" y1="423.15" x2="40.5" y2="423.15" stroke="#000" stroke-width="1.1"/>
<text transform="translate(32.3,426.9) scale(1,1.06)" text-anchor="end" class="tk">-60</text>
<line x1="55.35" y1="423.3" x2="55.35" y2="420.1" stroke="#000" stroke-width="1.1"/>
<line x1="84.98" y1="423.3" x2="84.98" y2="420.1" stroke="#000" stroke-width="1.1"/>
<line x1="114.62" y1="423.3" x2="114.62" y2="420.1" stroke="#000" stroke-width="1.1"/>
<line x1="144.25" y1="423.3" x2="144.25" y2="420.1" stroke="#000" stroke-width="1.1"/>
<line x1="173.89" y1="423.3" x2="173.89" y2="420.1" stroke="#000" stroke-width="1.1"/>
<line x1="203.53" y1="423.3" x2="203.53" y2="420.1" stroke="#000" stroke-width="1.1"/>
<line x1="233.16" y1="423.3" x2="233.16" y2="420.1" stroke="#000" stroke-width="1.1"/>
<line x1="262.8" y1="423.3" x2="262.8" y2="420.1" stroke="#000" stroke-width="1.1"/>
<line x1="292.43" y1="423.3" x2="292.43" y2="420.1" stroke="#000" stroke-width="1.1"/>
<line x1="322.07" y1="423.3" x2="322.07" y2="420.1" stroke="#000" stroke-width="1.1"/>
<line x1="351.7" y1="423.3" x2="351.7" y2="420.1" stroke="#000" stroke-width="1.1"/>
<line x1="381.34" y1="423.3" x2="381.34" y2="420.1" stroke="#000" stroke-width="1.1"/>
<line x1="410.97" y1="423.3" x2="410.97" y2="420.1" stroke="#000" stroke-width="1.1"/>
<line x1="440.61" y1="423.3" x2="440.61" y2="420.1" stroke="#000" stroke-width="1.1"/>
<line x1="470.24" y1="423.3" x2="470.24" y2="420.1" stroke="#000" stroke-width="1.1"/>
<line x1="499.88" y1="423.3" x2="499.88" y2="420.1" stroke="#000" stroke-width="1.1"/>
<line x1="529.51" y1="423.3" x2="529.51" y2="420.1" stroke="#000" stroke-width="1.1"/>
<line x1="559.14" y1="423.3" x2="559.14" y2="420.1" stroke="#000" stroke-width="1.1"/>
<text transform="translate(40.6,228.5) scale(1,1.14)" class="lt">b</text>
<text transform="translate(13.6,329) rotate(-90)" text-anchor="middle" class="yt">Changes in the number of hours in 2080-2099</text>
<rect x="508.6" y="237.25" width="23.6" height="10.7" fill="#FBCB8C" stroke="#333" stroke-width="0.9"/>
<rect x="508.6" y="250.65" width="23.6" height="11.2" fill="#9CD99C" stroke="#333" stroke-width="0.9"/>
<rect x="508.6" y="248.4" width="23.6" height="1.8" fill="#b4b4b4"/>
<text transform="translate(535.3,246.4) scale(1,1.08)" class="lg">RCP4.5</text>
<text transform="translate(535.3,259.8) scale(1,1.08)" class="lg">RCP8.5</text>
<text transform="translate(63.15,435) rotate(-45)" text-anchor="end" class="xl">&lt;-20</text>
<text transform="translate(92.78,435) rotate(-45)" text-anchor="end" class="xl">[-20,-17)</text>
<text transform="translate(122.42,435) rotate(-45)" text-anchor="end" class="xl">[-17,-14)</text>
<text transform="translate(152.06,435) rotate(-45)" text-anchor="end" class="xl">[-14,-11)</text>
<text transform="translate(181.69,435) rotate(-45)" text-anchor="end" class="xl">[-11,-8)</text>
<text transform="translate(211.33,435) rotate(-45)" text-anchor="end" class="xl">[-8,-5)</text>
<text transform="translate(240.96,435) rotate(-45)" text-anchor="end" class="xl">[-5,-2)</text>
<text transform="translate(270.6,435) rotate(-45)" text-anchor="end" class="xl">[-2,1)</text>
<text transform="translate(300.23,435) rotate(-45)" text-anchor="end" class="xl">[1,4)</text>
<text transform="translate(329.87,435) rotate(-45)" text-anchor="end" class="xl">[4,7)</text>
<text transform="translate(359.5,435) rotate(-45)" text-anchor="end" class="xl">[7,10)</text>
<text transform="translate(389.14,435) rotate(-45)" text-anchor="end" class="xl">[10,13)</text>
<text transform="translate(418.77,435) rotate(-45)" text-anchor="end" class="xl">[13,16)</text>
<text transform="translate(448.41,435) rotate(-45)" text-anchor="end" class="xl">[16,19)</text>
<text transform="translate(478.04,435) rotate(-45)" text-anchor="end" class="xl">[19,22)</text>
<text transform="translate(507.68,435) rotate(-45)" text-anchor="end" class="xl">[22,25)</text>
<text transform="translate(537.31,435) rotate(-45)" text-anchor="end" class="xl">[25,28)</text>
<text transform="translate(566.94,435) rotate(-45)" text-anchor="end" class="xl">&gt;=28</text>
<text x="307.8" y="470.5" text-anchor="middle" class="xt">Temperature bins</text>
</svg>
</body></html>
